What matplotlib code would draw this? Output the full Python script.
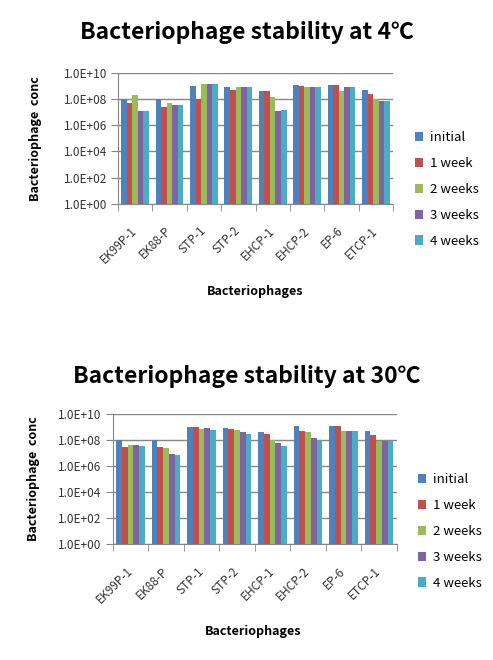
import numpy as np
import matplotlib
matplotlib.use("Agg")
import matplotlib.pyplot as plt
from matplotlib.ticker import FixedLocator

plt.rcParams['font.family'] = ['Noto Sans CJK KR', 'DejaVu Sans']

phages = ['EK99P-1', 'EK88-P', 'STP-1', 'STP-2', 'EHCP-1', 'EHCP-2', 'EP-6', 'ETCP-1']
series = ['initial', '1 week', '2 weeks', '3 weeks', '4 weeks']
colors = ['#4F81BD', '#C0504D', '#9BBB59', '#8064A2', '#4BACC6']

# 4℃
initial_4 = [1.0e8, 1.0e8, 9.0e8, 7.6e8, 3.7e8, 1.1e9, 1.1e9, 5.0e8]
week1_4 = [4.6e7, 2.5e7, 1.0e8, 4.5e8, 3.7e8, 9.0e8, 1.1e9, 2.6e8]
week2_4 = [2.0e8, 4.6e7, 1.3e9, 7.6e8, 1.3e8, 7.6e8, 3.7e8, 1.0e8]
week3_4 = [1.2e7, 3.2e7, 1.3e9, 7.6e8, 1.2e7, 7.6e8, 7.6e8, 7.4e7]
week4_4 = [1.2e7, 3.2e7, 1.3e9, 7.6e8, 1.5e7, 7.6e8, 7.6e8, 7.4e7]

# 30℃
initial_30 = [1.0e8, 1.0e8, 9.0e8, 7.6e8, 3.7e8, 1.1e9, 1.1e9, 4.5e8]
week1_30 = [2.7e7, 2.7e7, 9.0e8, 6.4e8, 2.6e8, 4.5e8, 1.1e9, 2.3e8]
week2_30 = [4.3e7, 2.2e7, 6.8e8, 5.3e8, 1.0e8, 3.7e8, 4.5e8, 7.9e7]
week3_30 = [4.3e7, 8.7e6, 7.6e8, 3.7e8, 5.8e7, 1.3e8, 4.5e8, 7.9e7]
week4_30 = [3.6e7, 7.2e6, 5.3e8, 2.6e8, 3.6e7, 1.0e8, 4.5e8, 7.9e7]

yticks = [1e0, 1e2, 1e4, 1e6, 1e8, 1e10]
ytick_labels = ['1.0E+00', '1.0E+02', '1.0E+04', '1.0E+06', '1.0E+08', '1.0E+10']

W, H = 493, 660
fig = plt.figure(figsize=(W / 100, H / 100), dpi=100)

gray = '#868686'


def draw(rect, data, title, title_y, ylab_x, xlab_xy, leg_xy):
    ax = fig.add_axes(rect)
    x = np.arange(len(phages))
    bw = 0.161
    for i, vals in enumerate(data):
        ax.bar(x + (i - 2) * bw, vals, bw, color=colors[i], label=series[i],
               linewidth=0, zorder=3)
    ax.set_yscale('log')
    ax.set_ylim(1, 1e10)
    ax.set_xlim(-0.5, len(phages) - 0.5)
    ax.yaxis.set_major_locator(FixedLocator(yticks))
    ax.yaxis.set_minor_locator(FixedLocator([]))
    ax.set_yticklabels(ytick_labels)
    ax.grid(axis='y', color=gray, linewidth=1, zorder=0)
    for s in ['top', 'right']:
        ax.spines[s].set_visible(False)
    for s in ['left', 'bottom']:
        ax.spines[s].set_color(gray)
    ax.tick_params(axis='y', length=5, color=gray, labelsize=8.5, pad=3,
                   labelcolor='#333333')
    ax.set_xticks(x)
    ax.set_xticklabels(phages, rotation=45, ha='right', va='center',
                       rotation_mode='anchor', fontsize=8.5, color='#333333')
    ax.tick_params(axis='x', which='major', length=0, pad=18)
    ax.set_xticks(np.arange(-0.5, len(phages)), minor=True)
    ax.tick_params(axis='x', which='minor', length=5, color=gray)
    fig.text(0.5, 1 - title_y / H, title, ha='center', va='center',
             fontsize=16.5, fontweight='bold')
    pos = ax.get_position()
    fig.text(ylab_x / W, (pos.y0 + pos.y1) / 2, 'Bacteriophage  conc',
             rotation=90, ha='center', va='center', fontsize=9,
             fontweight='bold')
    fig.text(xlab_xy[0] / W, 1 - xlab_xy[1] / H, 'Bacteriophages',
             ha='center', va='center', fontsize=9, fontweight='bold')
    ax.legend(loc='upper left', bbox_to_anchor=(leg_xy[0] / W, 1 - leg_xy[1] / H),
              bbox_transform=fig.transFigure, frameon=False, fontsize=9.5,
              handlelength=0.6, handleheight=0.7, handletextpad=0.5,
              labelspacing=0.98, borderpad=0, borderaxespad=0)
    return ax


draw([118 / W, 1 - 204 / H, 275 / W, 131.3 / H],
     [initial_4, week1_4, week2_4, week3_4, week4_4],
     'Bacteriophage stability at 4℃', 33, 35, (255, 292), (415, 131))
draw([112.7 / W, 1 - 544.3 / H, 284 / W, 130.6 / H],
     [initial_30, week1_30, week2_30, week3_30, week4_30],
     'Bacteriophage stability at 30℃', 376, 33, (253, 632), (418, 473))

fig.savefig('out.png', dpi=100)
